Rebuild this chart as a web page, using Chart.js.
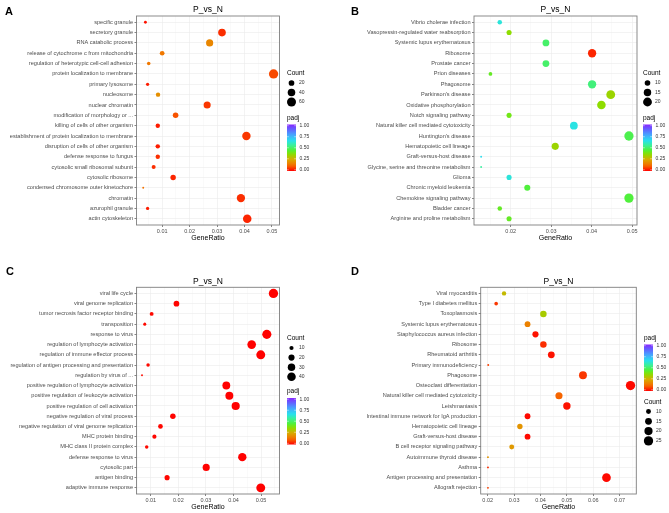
<!DOCTYPE html>
<html>
<head>
<meta charset="utf-8">
<script src="https://cdn.jsdelivr.net/npm/chart.js@4.4.1/dist/chart.umd.min.js"></script>
<style>
  html, body { margin: 0; padding: 0; background: #fff; }
  #wrap { position: relative; width: 669px; height: 513px; }
  #wrap canvas { position: absolute; left: 0; top: 0; }
</style>
</head>
<body>
<div id="wrap">
  <canvas id="chartA" width="669" height="513"></canvas>
  <canvas id="chartB" width="669" height="513"></canvas>
  <canvas id="chartC" width="669" height="513"></canvas>
  <canvas id="chartD" width="669" height="513"></canvas>
</div>
<script>
// ---- data (rows listed top to bottom) ----
const catsA = ['specific granule', 'secretory granule', 'RNA catabolic process',
  'release of cytochrome c from mitochondria', 'regulation of heterotypic cell-cell adhesion',
  'protein localization to membrane', 'primary lysosome', 'nucleosome', 'nuclear chromatin',
  'modification of morphology or ...', 'killing of cells of other organism',
  'establishment of protein localization to membrane', 'disruption of cells of other organism',
  'defense response to fungus', 'cytosolic small ribosomal subunit', 'cytosolic ribosome',
  'condensed chromosome outer kinetochore', 'chromatin', 'azurophil granule', 'actin cytoskeleton'];
const ratioA = [0.0039, 0.0318, 0.0273, 0.0100, 0.0051, 0.0506, 0.0047, 0.0085, 0.0264, 0.0149,
  0.0084, 0.0407, 0.0084, 0.0084, 0.0069, 0.0140, 0.0031, 0.0387, 0.0047, 0.0410];
const countA = [5, 41, 35, 13, 7, 65, 6, 11, 34, 19, 11, 52, 11, 11, 9, 18, 4, 50, 6, 53];
const padjA = [0.02, 0.05, 0.17, 0.14, 0.14, 0.08, 0.03, 0.19, 0.06, 0.09,
  0.03, 0.06, 0.03, 0.05, 0.05, 0.04, 0.13, 0.05, 0.03, 0.04];

const catsB = ['Vibrio cholerae infection', 'Vasopressin-regulated water reabsorption',
  'Systemic lupus erythematosus', 'Ribosome', 'Prostate cancer', 'Prion diseases', 'Phagosome',
  "Parkinson's disease", 'Oxidative phosphorylation', 'Notch signaling pathway',
  'Natural killer cell mediated cytotoxicity', "Huntington's disease", 'Hematopoietic cell lineage',
  'Graft-versus-host disease', 'Glycine, serine and threonine metabolism', 'Glioma',
  'Chronic myeloid leukemia', 'Chemokine signaling pathway', 'Bladder cancer',
  'Arginine and proline metabolism'];
const ratioB = [0.0173, 0.0196, 0.0287, 0.0401, 0.0287, 0.0150, 0.0401, 0.0447, 0.0424, 0.0196,
  0.0356, 0.0492, 0.0310, 0.0127, 0.0127, 0.0196, 0.0241, 0.0492, 0.0173, 0.0196];
const countB = [8, 9, 13, 18, 13, 7, 18, 20, 19, 9, 16, 22, 14, 6, 6, 9, 11, 22, 8, 9];
const padjB = [0.63, 0.36, 0.50, 0.04, 0.50, 0.42, 0.52, 0.34, 0.36, 0.40,
  0.64, 0.47, 0.34, 0.66, 0.56, 0.63, 0.45, 0.45, 0.42, 0.42];

const catsC = ['viral life cycle', 'viral genome replication', 'tumor necrosis factor receptor binding',
  'transposition', 'response to virus', 'regulation of lymphocyte activation',
  'regulation of immune effector process', 'regulation of antigen processing and presentation',
  'regulation by virus of ...', 'positive regulation of lymphocyte activation',
  'positive regulation of leukocyte activation', 'positive regulation of cell activation',
  'negative regulation of viral process', 'negative regulation of viral genome replication',
  'MHC protein binding', 'MHC class II protein complex', 'defense response to virus',
  'cytosolic part', 'antigen binding', 'adaptive immune response'];
const ratioC = [0.0545, 0.0193, 0.0103, 0.0078, 0.0521, 0.0466, 0.0499, 0.0090, 0.0068, 0.0374,
  0.0385, 0.0408, 0.0180, 0.0135, 0.0113, 0.0085, 0.0432, 0.0301, 0.0159, 0.0499];
const countC = [48, 17, 9, 7, 46, 41, 44, 8, 6, 33, 34, 36, 16, 12, 10, 8, 38, 27, 14, 44];
const padjC = [0.002, 0.004, 0.01, 0.01, 0.001, 0.001, 0.001, 0.01, 0.012, 0.001,
  0.001, 0.001, 0.004, 0.006, 0.008, 0.01, 0.001, 0.002, 0.006, 0.001];

const catsD = ['Viral myocarditis', 'Type I diabetes mellitus', 'Toxoplasmosis',
  'Systemic lupus erythematosus', 'Staphylococcus aureus infection', 'Ribosome',
  'Rheumatoid arthritis', 'Primary immunodeficiency', 'Phagosome', 'Osteoclast differentiation',
  'Natural killer cell mediated cytotoxicity', 'Leishmaniasis',
  'Intestinal immune network for IgA production', 'Hematopoietic cell lineage',
  'Graft-versus-host disease', 'B cell receptor signaling pathway', 'Autoimmune thyroid disease',
  'Asthma', 'Antigen processing and presentation', 'Allograft rejection'];
const ratioD = [0.0262, 0.0232, 0.0411, 0.0351, 0.0381, 0.0411, 0.0441, 0.0202, 0.0561, 0.0741,
  0.0470, 0.0500, 0.0351, 0.0322, 0.0351, 0.0291, 0.0201, 0.0201, 0.0650, 0.0201];
const countD = [9, 8, 14, 12, 13, 14, 15, 7, 19, 25, 16, 17, 12, 11, 12, 10, 7, 7, 22, 7];
const padjD = [0.28, 0.06, 0.32, 0.16, 0.02, 0.05, 0.02, 0.07, 0.06, 0.01,
  0.11, 0.02, 0.01, 0.20, 0.01, 0.21, 0.20, 0.05, 0.01, 0.07];

// legend break values
const countBreaksA = [20, 40, 60];
const countBreaksB = [10, 15, 20];
const countBreaksC = [10, 20, 30, 40];
const countBreaksD = [10, 15, 20, 25];
const padjBreaks = [1.00, 0.75, 0.50, 0.25, 0.00];

const FAM = "'Liberation Sans', Arial, Helvetica, sans-serif";

// padj colour ramp (red -> orange -> green -> cyan -> blue -> purple)
const STOPS = [
  [0.00, [255, 0, 0]], [0.12, [245, 110, 0]], [0.25, [215, 172, 0]], [0.37, [135, 225, 0]],
  [0.45, [80, 240, 60]], [0.55, [60, 240, 150]], [0.65, [40, 225, 235]], [0.78, [70, 165, 255]],
  [0.90, [100, 95, 255]], [1.00, [135, 40, 255]]
];
function padjColor(v) {
  v = Math.max(0, Math.min(1, v));
  for (let i = 1; i < STOPS.length; i++) {
    if (v <= STOPS[i][0]) {
      const [p0, c0] = STOPS[i - 1], [p1, c1] = STOPS[i];
      const t = (v - p0) / (p1 - p0);
      const c = c0.map((x, k) => Math.round(x + (c1[k] - x) * t));
      return `rgb(${c[0]},${c[1]},${c[2]})`;
    }
  }
  return 'rgb(135,40,255)';
}

function makeRadius(counts) {
  const lo = Math.min(...counts), hi = Math.max(...counts);
  return c => 0.95 + 3.7 * Math.sqrt(Math.max(0, (c - lo) / (hi - lo)));
}

// draws panel frame, titles, letter and the two legends
const decor = {
  id: 'decor',
  afterDraw(chart, args, o) {
    const { ctx, chartArea: a } = chart;
    const cx = (a.left + a.right) / 2;
    ctx.save();
    ctx.strokeStyle = '#7f7f7f';
    ctx.lineWidth = 0.9;
    ctx.strokeRect(a.left, a.top, a.right - a.left, a.bottom - a.top);

    ctx.fillStyle = '#000';
    ctx.textBaseline = 'middle';
    ctx.textAlign = 'center';
    ctx.font = `8.5px ${FAM}`;
    ctx.fillText('P_vs_N', cx, a.top - 6);
    ctx.font = `7px ${FAM}`;
    ctx.fillText('GeneRatio', cx, a.bottom + 13);
    ctx.textAlign = 'left';
    ctx.font = `bold 11px ${FAM}`;
    ctx.fillText(o.letter, o.letterX, o.letterY);

    // Count legend
    const cl = o.count;
    ctx.font = `6.5px ${FAM}`;
    ctx.fillText('Count', cl.x, cl.y);
    cl.values.forEach((v, i) => {
      const yy = cl.y + 9.5 + i * cl.gap;
      ctx.beginPath();
      ctx.fillStyle = '#000';
      ctx.arc(cl.x + 4.5, yy, o.radius(v), 0, Math.PI * 2);
      ctx.fill();
      ctx.fillStyle = '#333';
      ctx.font = `5px ${FAM}`;
      ctx.fillText(String(v), cl.x + 12, yy);
    });

    // padj colour bar
    const pl = o.padj;
    ctx.fillStyle = '#000';
    ctx.font = `6.5px ${FAM}`;
    ctx.fillText('padj', pl.x, pl.y);
    const top = pl.y + 6.5, bot = top + 46.5, w = 9;
    const g = ctx.createLinearGradient(0, bot, 0, top);
    for (let s = 0; s <= 20; s++) g.addColorStop(s / 20, padjColor(s / 20));
    ctx.fillStyle = g;
    ctx.fillRect(pl.x, top, w, bot - top);
    ctx.font = `5px ${FAM}`;
    padjBreaks.forEach(v => {
      const yy = bot - 1.2 - v * (bot - top - 2.4);
      ctx.strokeStyle = 'rgba(255,255,255,0.9)';
      ctx.lineWidth = 0.5;
      ctx.beginPath();
      ctx.moveTo(pl.x, yy); ctx.lineTo(pl.x + 1.8, yy);
      ctx.moveTo(pl.x + w - 1.8, yy); ctx.lineTo(pl.x + w, yy);
      ctx.stroke();
      ctx.fillStyle = '#333';
      ctx.fillText(v.toFixed(2), pl.x + 12.5, yy);
    });
    ctx.restore();
  }
};

function buildPanel(id, cats, ratio, count, padj, breaks, geo) {
  const radius = makeRadius(count);
  const points = cats.map((c, i) => ({ x: ratio[i], y: i, r: radius(count[i]) }));
  const colors = padj.map(padjColor);
  const isMajor = v => Math.abs(Math.round(v * 1000) % 10) === 0;

  return new Chart(document.getElementById(id), {
    type: 'bubble',
    data: {
      datasets: [{ data: points, backgroundColor: colors, borderWidth: 0, hoverBorderWidth: 0 }]
    },
    options: {
      responsive: false,
      animation: false,
      devicePixelRatio: 1,
      events: [],
      layout: {
        autoPadding: false,
        padding: { left: 0, top: geo.top, right: 669 - geo.right, bottom: 513 - geo.bottom - 12 }
      },
      plugins: {
        legend: { display: false },
        tooltip: { enabled: false },
        decor: {
          letter: geo.letter, letterX: geo.letterX, letterY: geo.letterY,
          radius: radius,
          count: { x: geo.countX, y: geo.countY, gap: geo.countGap, values: breaks },
          padj: { x: geo.padjX, y: geo.padjY }
        }
      },
      scales: {
        x: {
          type: 'linear',
          min: geo.xmin,
          max: geo.xmax,
          afterFit: s => { s.height = 12; },
          afterBuildTicks: s => {
            const t = [];
            for (let k = Math.ceil(s.min / 0.005); k <= Math.floor(s.max / 0.005); k++) {
              t.push({ value: Math.round(k * 5) / 1000 });
            }
            s.ticks = t;
          },
          ticks: {
            autoSkip: false,
            maxRotation: 0,
            padding: 1,
            color: '#4d4d4d',
            font: { size: 5.5, family: FAM },
            callback: v => isMajor(v) ? v.toFixed(2) : ''
          },
          grid: {
            color: c => isMajor(c.tick.value) ? '#ebebeb' : '#f6f6f6',
            lineWidth: 0.6,
            tickLength: 2,
            tickWidth: 0.6,
            tickColor: c => isMajor(c.tick.value) ? '#333' : 'rgba(0,0,0,0)'
          },
          border: { display: false }
        },
        y: {
          type: 'linear',
          reverse: true,
          min: -0.6,
          max: cats.length - 0.4,
          afterFit: s => { s.width = geo.left; },
          afterBuildTicks: s => { s.ticks = cats.map((c, i) => ({ value: i })); },
          ticks: {
            autoSkip: false,
            padding: 1.5,
            color: '#4d4d4d',
            font: { size: 5.6, family: FAM },
            callback: v => cats[v]
          },
          grid: { color: '#ebebeb', lineWidth: 0.6, tickLength: 2, tickWidth: 0.6, tickColor: '#333' },
          border: { display: false }
        }
      }
    },
    plugins: [decor]
  });
}

buildPanel('chartA', catsA, ratioA, countA, padjA, countBreaksA, {
  left: 136.5, top: 16, right: 279.5, bottom: 225, xmin: 0.00065, xmax: 0.05276,
  letter: 'A', letterX: 5, letterY: 12,
  countX: 287, countY: 73.5, countGap: 9.5, padjX: 287, padjY: 118
});
buildPanel('chartB', catsB, ratioB, countB, padjB, countBreaksB, {
  left: 474, top: 16, right: 637, bottom: 225, xmin: 0.01094, xmax: 0.05119,
  letter: 'B', letterX: 351, letterY: 12,
  countX: 643, countY: 73.5, countGap: 9.5, padjX: 643, padjY: 118
});
buildPanel('chartC', catsC, ratioC, countC, padjC, countBreaksC, {
  left: 136.5, top: 287.3, right: 279.5, bottom: 494, xmin: 0.0048, xmax: 0.0567,
  letter: 'C', letterX: 6, letterY: 272,
  countX: 287, countY: 338.5, countGap: 9.6, padjX: 287, padjY: 391.5
});
buildPanel('chartD', catsD, ratioD, countD, padjD, countBreaksD, {
  left: 480.7, top: 287.3, right: 636.3, bottom: 494, xmin: 0.01735, xmax: 0.0763,
  letter: 'D', letterX: 351, letterY: 272,
  countX: 644, countY: 402, countGap: 9.8, padjX: 644, padjY: 338
});
</script>
</body>
</html>
